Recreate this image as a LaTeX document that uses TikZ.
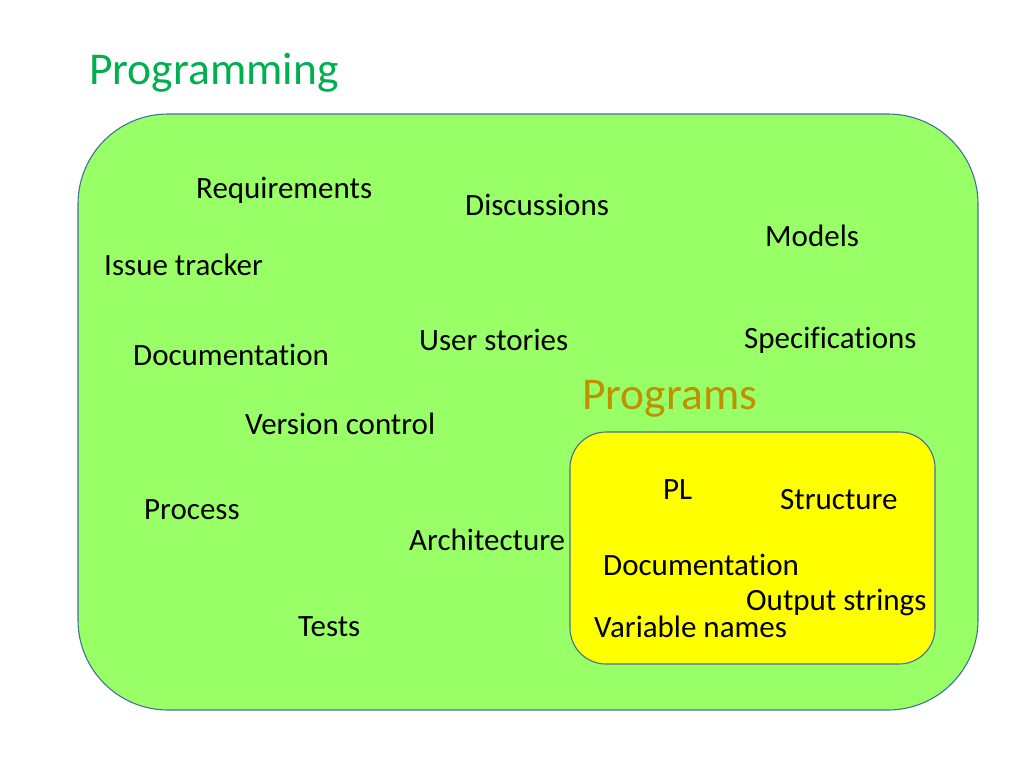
\documentclass[tikz,border=0pt]{standalone}
\usepackage{fontspec}
\setmainfont{Carlito}[Ligatures=NoCommon]
\usetikzlibrary{positioning}
\definecolor{areagreen} {RGB}{153,255,102}
\definecolor{areayellow}{RGB}{255,255,0}
\definecolor{edgeblue}  {RGB}{65,113,156}
\definecolor{titlegreen}{RGB}{0,176,80}
\definecolor{progbrown} {RGB}{191,144,0}
\tikzset{
  area/.style   ={draw=edgeblue, line width=1.1pt},
  item/.style   ={anchor=base west, inner sep=0pt,
                  font=\fontsize{31}{36}\selectfont},
  heading/.style={anchor=base west, inner sep=0pt,
                  font=\fontsize{45.5}{52}\selectfont},
}
\begin{document}
\begin{tikzpicture}[x=1pt,y=-1pt]
  \useasboundingbox (0,0) rectangle (1024,768);
  \node[heading, text=titlegreen] (title) at (89,84) {Programming};

  % outer area and the programs area inside it
  \draw[area, fill=areagreen, rounded corners=90pt] (78,114) rectangle (978,710);
  \draw[area, fill=areayellow, rounded corners=36pt] (570,432) rectangle (935,664);

  \node[item] (req)     at (196,198) {Requirements};
  \node[item] (disc)    at (465,215) {Discussions};
  \node[item] (models)  at (765,246) {Models};
  \node[item] (issue)   at (104,275) {Issue tracker};
  \node[item] (stories) at (419,350) {User stories};
  \node[item] (spec)    at (744,348) {Specifications};
  \node[item] (docu)    at (133,365) {Documentation};
  \node[item] (version) at (245,434) {Version control};
  \node[item] (process) at (144,519) {Process};
  \node[item] (arch)    at (409,550) {Architecture};
  \node[item] (tests)   at (298,636) {Tests};

  \node[heading, text=progbrown] (prog) at (582,409) {Programs};
  \node[item] (pl)       at (663,499) {PL};
  \node[item] (struct)   at (780,509) {Structure};
  \node[item] (pdoc)     at (603,575) {Documentation};
  \node[item] (output)   at (746,610) {Output strings};
  \node[item] (varnames) at (594,637) {Variable names};
\end{tikzpicture}
\end{document}
